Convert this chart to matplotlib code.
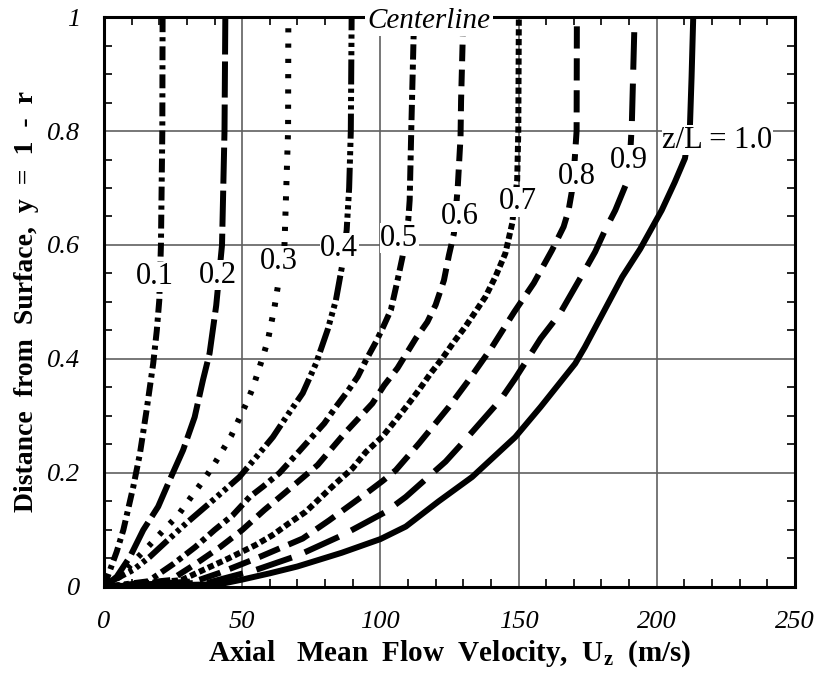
import numpy as np
import matplotlib
matplotlib.use('Agg')
import matplotlib.pyplot as plt
from matplotlib.ticker import MultipleLocator

plt.rcParams['font.family'] = ['Liberation Serif', 'DejaVu Serif']
plt.rcParams['mathtext.fontset'] = 'custom'
plt.rcParams['mathtext.rm'] = 'Liberation Serif'
plt.rcParams['mathtext.bf'] = 'Liberation Serif:bold'
plt.rcParams['lines.scale_dashes'] = False

# velocity profiles U_z (m/s) vs y = 1 - r
y01 = [0, 0.03, 0.062, 0.1, 0.176, 0.234, 0.31, 0.392, 0.45, 0.503, 0.6, 0.8, 1.0]
u01 = [0, 2.2, 4.6, 7.0, 10.6, 13.0, 15.4, 17.8, 19.1, 20.0, 20.6, 21.1, 21.2]

y02 = [0, 0.018, 0.053, 0.1, 0.141, 0.188, 0.24, 0.298, 0.363, 0.41, 0.494, 0.6, 0.8, 1.0]
u02 = [0, 4.6, 9.4, 14.2, 19.6, 23.8, 28.6, 32.8, 35.8, 38.2, 40.6, 42.7, 43.6, 43.9]

y03 = [0, 0.018, 0.044, 0.071, 0.099, 0.126, 0.153, 0.182, 0.21, 0.239, 0.265,
       0.296, 0.322, 0.35, 0.377, 0.404, 0.433, 0.491, 0.6, 0.8, 1.0]
u03 = [0, 5.8, 10.6, 16.0, 21.4, 26.8, 30.8, 35.2, 39.2, 42.8, 46.0,
       49.0, 51.5, 53.9, 55.7, 57.5, 59.3, 61.7, 65.3, 66.6, 66.7]

y04 = [0, 0.012, 0.03, 0.053, 0.08, 0.112, 0.147, 0.193, 0.228, 0.263, 0.298,
       0.34, 0.392, 0.451, 0.503, 0.562, 0.626, 0.7, 0.8, 1.0]
u04 = [0, 3.4, 10.6, 16.6, 22.6, 29.8, 38.2, 49.0, 55.1, 61.1, 65.9,
       71.9, 76.7, 80.9, 83.9, 86.1, 87.8, 88.7, 89.3, 89.6]

y05 = [0, 0.01, 0.04, 0.07, 0.1, 0.126, 0.158, 0.176, 0.2, 0.232, 0.258, 0.287,
       0.316, 0.343, 0.369, 0.398, 0.43, 0.454, 0.486, 0.538, 0.579, 0.644, 0.679, 0.807, 1.0]
u05 = [0, 16, 25, 33, 40, 46.6, 52.7, 57.5, 63.5, 69.5, 74.3, 79.7,
       83.9, 88.1, 91.8, 94.8, 98.4, 100.8, 103.8, 106.2, 108.0, 110.1, 110.6, 111.2, 112.2]

y06 = [0, 0.012, 0.04, 0.07, 0.1, 0.135, 0.167, 0.214, 0.272, 0.322, 0.354, 0.384,
       0.436, 0.465, 0.495, 0.538, 0.582, 0.62, 0.702, 0.789, 0.854, 1.0]
u06 = [0, 24, 33, 42, 50, 58, 65.9, 77.3, 87.5, 97.1, 101.4, 106.2,
       112.8, 117.0, 120.0, 123.0, 124.8, 126.6, 128.0, 129.0, 129.2, 130.0]

y07 = [0, 0.012, 0.03, 0.05, 0.074, 0.091, 0.112, 0.132, 0.155, 0.182, 0.208, 0.237,
       0.264, 0.293, 0.319, 0.346, 0.375, 0.401, 0.43, 0.457, 0.483, 0.509, 0.544,
       0.585, 0.638, 0.714, 0.8, 1.0]
u07 = [0, 28, 36, 45, 55, 61, 67, 73, 78, 83.9, 89.9, 94.8,
       100.8, 105.6, 109.8, 114.0, 118.2, 122.4, 126.6, 130.8, 134.4, 138.0, 141.6,
       145.2, 147.7, 149.5, 149.9, 150.1]

y08 = [0, 0.01, 0.025, 0.05, 0.085, 0.117, 0.164, 0.186, 0.205, 0.252, 0.316, 0.363,
       0.421, 0.483, 0.533, 0.591, 0.632, 0.661, 0.7, 0.749, 0.8, 1.0]
u08 = [0, 33, 42, 55, 71.9, 81.5, 94.8, 100.8, 105.6, 114.0, 124.8, 132.0,
       140.4, 148.5, 155.5, 162.1, 166.3, 168.1, 169.5, 170.3, 171.0, 171.1]

y09 = [0, 0.008, 0.03, 0.055, 0.091, 0.132, 0.158, 0.22, 0.252, 0.328, 0.366, 0.436,
       0.48, 0.55, 0.588, 0.626, 0.661, 0.708, 0.76, 0.815, 1.0]
u09 = [0, 38, 55, 70, 86.3, 102.0, 109.2, 123.6, 129.6, 143.4, 148.8, 158.0,
       165.0, 173.3, 177.7, 181.3, 185.0, 189.0, 190.4, 191.0, 192.0]

y10 = [0, 0.005, 0.013, 0.024, 0.036, 0.06, 0.084, 0.106, 0.15, 0.193, 0.263, 0.316, 0.392,
       0.421, 0.503, 0.544, 0.593, 0.661, 0.71, 0.752, 0.807, 0.895, 1.0]
u10 = [0, 42, 50, 60, 70, 86, 100, 109.2, 121.0, 133.2, 148.8, 158.0, 170.5,
       174.0, 183.0, 187.5, 194.0, 201.8, 206.5, 210.2, 212.0, 212.6, 213.2]

curve_u = [u01, u02, u03, u04, u05, u06, u07, u08, u09, u10]
curve_y = [y01, y02, y03, y04, y05, y06, y07, y08, y09, y10]
dashes = [(10, 3.6, 3, 3.6), (26, 5), (3, 8), (18, 3, 3, 3, 3, 3, 3, 3),
          (11, 3.6, 3.6, 3.6), (12, 6), (4.5, 2.5), (16, 7), (27, 10), None]

labels = ['0.1', '0.2', '0.3', '0.4', '0.5', '0.6', '0.7', '0.8', '0.9', 'z/L = 1.0']
label_u = [18.4, 41.2, 63.2, 85.1, 106.8, 128.8, 149.8, 171.1, 189.8, 222]
label_y = [0.544, 0.547, 0.571, 0.594, 0.612, 0.65, 0.676, 0.72, 0.749, 0.784]

fig = plt.figure(figsize=(8.17, 6.75), dpi=100)
ax = fig.add_axes([0.1273, 0.1304, 0.8457, 0.8444])

for i in range(len(curve_u)):
    line, = ax.plot(curve_u[i], curve_y[i], color='black', lw=4.3,
                    solid_capstyle='butt', solid_joinstyle='round', zorder=3)
    if dashes[i] is not None:
        line.set_dashes(dashes[i])
        line.set_dash_capstyle('butt')

for i in range(len(labels)):
    ax.text(label_u[i], label_y[i], labels[i], fontsize=22, ha='center', va='center',
            zorder=6, bbox=dict(facecolor='white', edgecolor='none', pad=0.5))

ax.text(117.6, 0.993, 'Centerline', fontsize=21, style='italic', ha='center', va='center',
        zorder=6, clip_on=False, bbox=dict(facecolor='white', edgecolor='none', pad=1.5))

ax.set_xlim(0, 250)
ax.set_ylim(0, 1)
ax.xaxis.set_minor_locator(MultipleLocator(10))
ax.yaxis.set_minor_locator(MultipleLocator(0.05))
ax.set_xticks([0, 50, 100, 150, 200, 250])
ax.set_xticklabels(['0', '50', '100', '150', '200', '250'])
ax.set_yticks([0, 0.2, 0.4, 0.6, 0.8, 1.0])
ax.set_yticklabels(['0', '0.2', '0.4', '0.6', '0.8', '1'])
for lab in ax.get_xticklabels() + ax.get_yticklabels():
    lab.set_fontstyle('italic')
    lab.set_fontsize(19)
ax.tick_params(which='both', direction='in', top=True, right=True, width=1.2)
ax.tick_params(which='major', length=0)
ax.tick_params(axis='x', which='major', pad=17)
ax.tick_params(axis='y', which='major', pad=17)
ax.tick_params(which='minor', length=6)
ax.grid(True, which='major', color='#606060', lw=1.2)
for s in ax.spines.values():
    s.set_linewidth(2.2)

ax.set_xlabel(r'Axial   Mean  Flow  Velocity,  U$_{\mathbf{z}}$  (m/s)',
              fontsize=21, fontweight='bold', labelpad=4)
ax.set_ylabel('Distance  from  Surface,  y  =  1  -  r',
              fontsize=20, fontweight='bold', labelpad=6)

fig.savefig('out.png', dpi=100)
